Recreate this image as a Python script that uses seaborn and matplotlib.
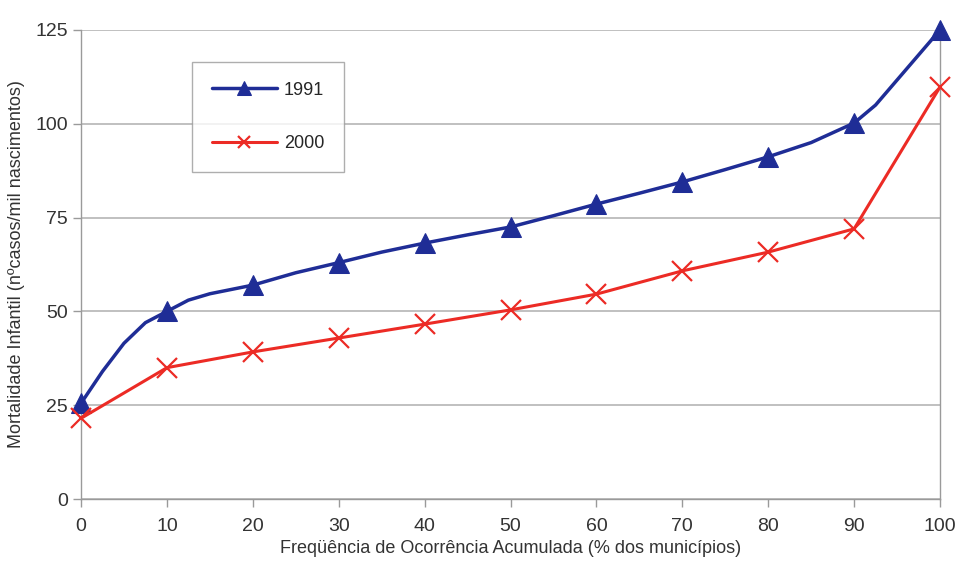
import numpy as np
import pandas as pd
import matplotlib
matplotlib.use("Agg")
import matplotlib.pyplot as plt
import seaborn as sns

# 1991 series (smoothed curve in the original; markers only on the 10% steps)
freq_1991 = [0, 2.5, 5, 7.5, 10, 12.5, 15, 20, 25, 30, 35, 40, 45, 50, 55, 60, 65, 70, 75, 80,
             85, 90, 92.5, 100]
mort_1991 = [25.5, 34, 41.5, 47, 50, 53, 54.7, 57, 60.3, 63, 65.8, 68.2, 70.4, 72.5, 75.5, 78.6,
             81.5, 84.5, 87.8, 91.2, 95, 100.2, 105, 125]

# 2000 series
freq_2000 = [0, 10, 20, 30, 40, 50, 60, 70, 80, 90, 100]
mort_2000 = [21.5, 35, 39.2, 42.9, 46.6, 50.4, 54.6, 60.8, 65.8, 72, 109.8]

x_ticks = list(range(0, 101, 10))
y_ticks = [0, 25, 50, 75, 100, 125]

blue = "#1f2d96"
red = "#ec2b25"
grey = "#9a9a9a"

df_1991 = pd.DataFrame({"freq": freq_1991, "mort": mort_1991})
df_2000 = pd.DataFrame({"freq": freq_2000, "mort": mort_2000})
marks_1991 = [i for i, f in enumerate(freq_1991) if f % 10 == 0]

sns.set_style("white")
plt.rcParams["font.family"] = ["Liberation Sans", "DejaVu Sans"]

fig = plt.figure(figsize=(9.62, 5.72), dpi=100)
ax = fig.add_axes([81 / 962, 1 - 499 / 572, 859 / 962, 469 / 572])

sns.lineplot(data=df_1991, x="freq", y="mort", ax=ax, color=blue, linewidth=2.5,
             marker="^", markersize=15, markevery=marks_1991, markeredgecolor=blue,
             label="1991", clip_on=False, zorder=3)
sns.lineplot(data=df_2000, x="freq", y="mort", ax=ax, color=red, linewidth=2.2,
             marker="x", markersize=14, markeredgewidth=1.6, markeredgecolor=red,
             label="2000", clip_on=False, zorder=3)

ax.set_xlim(0, 100)
ax.set_ylim(0, 125)
ax.set_xticks(x_ticks)
ax.set_yticks(y_ticks)
ax.yaxis.grid(True, color="#b5b5b5", linewidth=1.2)
ax.xaxis.grid(False)

for side in ["left", "bottom", "right", "top"]:
    ax.spines[side].set_color(grey)
    ax.spines[side].set_linewidth(1.0)
ax.spines["top"].set_visible(False)

ax.tick_params(axis="both", labelsize=14, colors="#333333", length=6, width=1, direction="out",
               bottom=True, left=True)
ax.tick_params(axis="both", color=grey)
ax.tick_params(axis="x", pad=8)

ax.set_xlabel("Freqüência de Ocorrência Acumulada (% dos municípios)", fontsize=13, color="#333333",
              labelpad=3)
ax.set_ylabel("Mortalidade Infantil (nºcasos/mil nascimentos)", fontsize=13, color="#333333",
              labelpad=7)

leg = ax.legend(loc="upper left", bbox_to_anchor=(0.129, 0.932), fontsize=13, frameon=True,
                fancybox=False, edgecolor=grey, handlelength=3.6, labelspacing=2.0,
                borderpad=1.1, handletextpad=0.4, markerscale=0.65, borderaxespad=0)
leg.get_frame().set_linewidth(1.0)

fig.savefig("out.png", dpi=100)
